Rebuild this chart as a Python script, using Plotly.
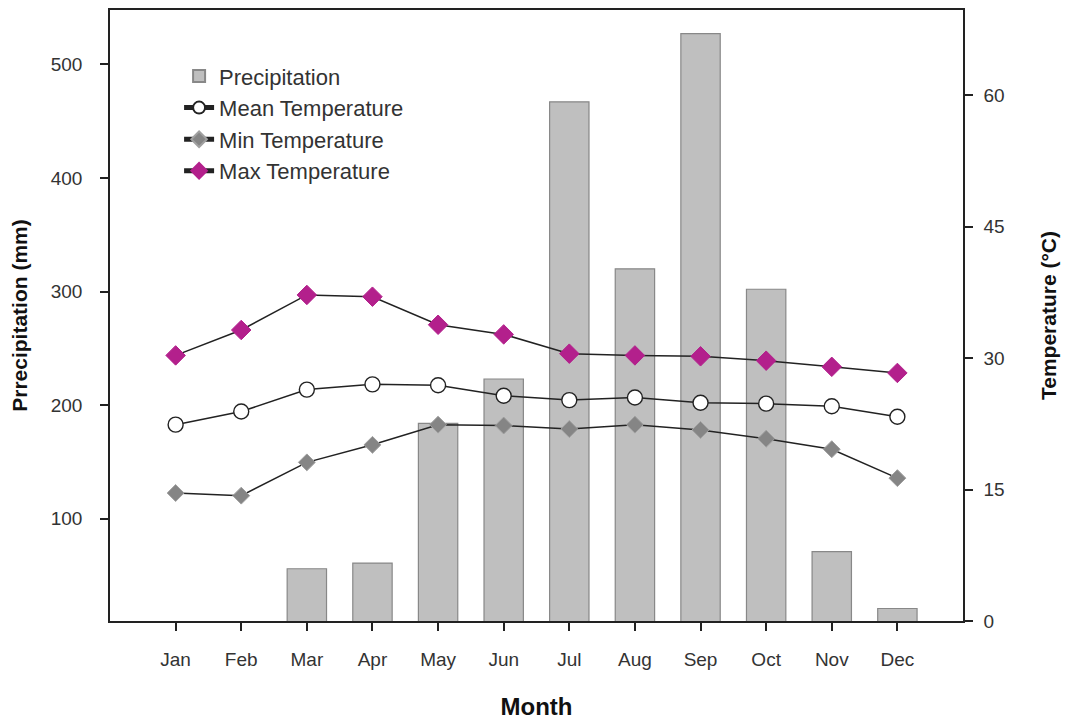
import plotly.graph_objects as go

months = ["Jan", "Feb", "Mar", "Apr", "May", "Jun", "Jul", "Aug", "Sep", "Oct", "Nov", "Dec"]
precipitation = [0, 0, 56, 61, 184, 223, 467, 320, 527, 302, 71, 21]
mean_temp = [22.4, 23.9, 26.4, 27.0, 26.9, 25.7, 25.2, 25.5, 24.9, 24.8, 24.5, 23.3]
min_temp = [14.6, 14.3, 18.1, 20.1, 22.4, 22.3, 21.9, 22.4, 21.8, 20.8, 19.6, 16.3]
max_temp = [30.3, 33.2, 37.2, 37.0, 33.8, 32.7, 30.5, 30.3, 30.2, 29.7, 29.0, 28.3]

precip_ticks = [100, 200, 300, 400, 500]
temp_ticks = [0, 15, 30, 45, 60]

FONT = "Liberation Sans, Arial, sans-serif"
TXT = "#333333"
LINE = "#222222"

xs = list(range(len(months)))

fig = go.Figure()
fig.add_trace(go.Bar(
    x=xs, y=precipitation, name="Precipitation", width=0.6,
    marker=dict(color="#bfbfbf", line=dict(color="#888888", width=1.2)),
    yaxis="y", legendgroup="a",
))
fig.add_trace(go.Scatter(
    x=xs, y=mean_temp, name="Mean Temperature", mode="lines+markers",
    line=dict(color=LINE, width=1.5),
    marker=dict(symbol="circle", size=15, color="white", line=dict(color=LINE, width=1.4)),
    yaxis="y2", legendgroup="b",
))
fig.add_trace(go.Scatter(
    x=xs, y=min_temp, name="Min Temperature", mode="lines+markers",
    line=dict(color=LINE, width=1.5),
    marker=dict(symbol="diamond", size=13, color="#858585", line=dict(color="#a0a0a0", width=1)),
    yaxis="y2", legendgroup="c",
))
fig.add_trace(go.Scatter(
    x=xs, y=max_temp, name="Max Temperature", mode="lines+markers",
    line=dict(color=LINE, width=1.5),
    marker=dict(symbol="diamond", size=15, color="#b3208c", line=dict(color="#b3208c", width=1)),
    yaxis="y2", legendgroup="d",
))

fig.update_layout(
    width=1061, height=713,
    margin=dict(l=102, r=106, t=2, b=100, autoexpand=False),
    paper_bgcolor="white", plot_bgcolor="white",
    font=dict(family=FONT, size=19, color=TXT),
    showlegend=True,
    legend=dict(
        x=0.081, y=0.926, xanchor="left", yanchor="top",
        bgcolor="rgba(0,0,0,0)", font=dict(size=22, color=TXT, family=FONT),
        tracegroupgap=0, itemsizing="constant",
    ),
    bargap=0.4,
    xaxis=dict(
        range=[-1, 12], tickmode="array", tickvals=xs, ticktext=months,
        showline=True, linecolor=LINE, linewidth=1.5, mirror=True,
        ticks="outside", ticklen=8, tickwidth=1.5, tickcolor=LINE,
        showgrid=False, zeroline=False, ticklabelstandoff=12,
        tickfont=dict(size=19, color=TXT),
        title=dict(text="<b>Month</b>", font=dict(size=24, color="#111111"), standoff=30),
    ),
    yaxis=dict(
        range=[10, 547.8], tickmode="array", tickvals=precip_ticks,
        showline=True, linecolor=LINE, linewidth=1.5,
        ticks="outside", ticklen=8, tickwidth=1.5, tickcolor=LINE,
        showgrid=False, zeroline=False, ticklabelstandoff=14,
        tickfont=dict(size=19, color=TXT),
        title=dict(text="<b>Prrecipitation (mm)</b>", font=dict(size=21, color="#111111"), standoff=20),
    ),
    yaxis2=dict(
        range=[0, 69.71], tickmode="array", tickvals=temp_ticks,
        overlaying="y", side="right",
        showline=True, linecolor=LINE, linewidth=1.5,
        ticks="outside", ticklen=8, tickwidth=1.5, tickcolor=LINE,
        showgrid=False, zeroline=False, ticklabelstandoff=7,
        tickfont=dict(size=19, color=TXT),
        title=dict(text="<b>Temperature (°C)</b>", font=dict(size=21, color="#111111"), standoff=38),
    ),
)

fig.write_html("out.html")
